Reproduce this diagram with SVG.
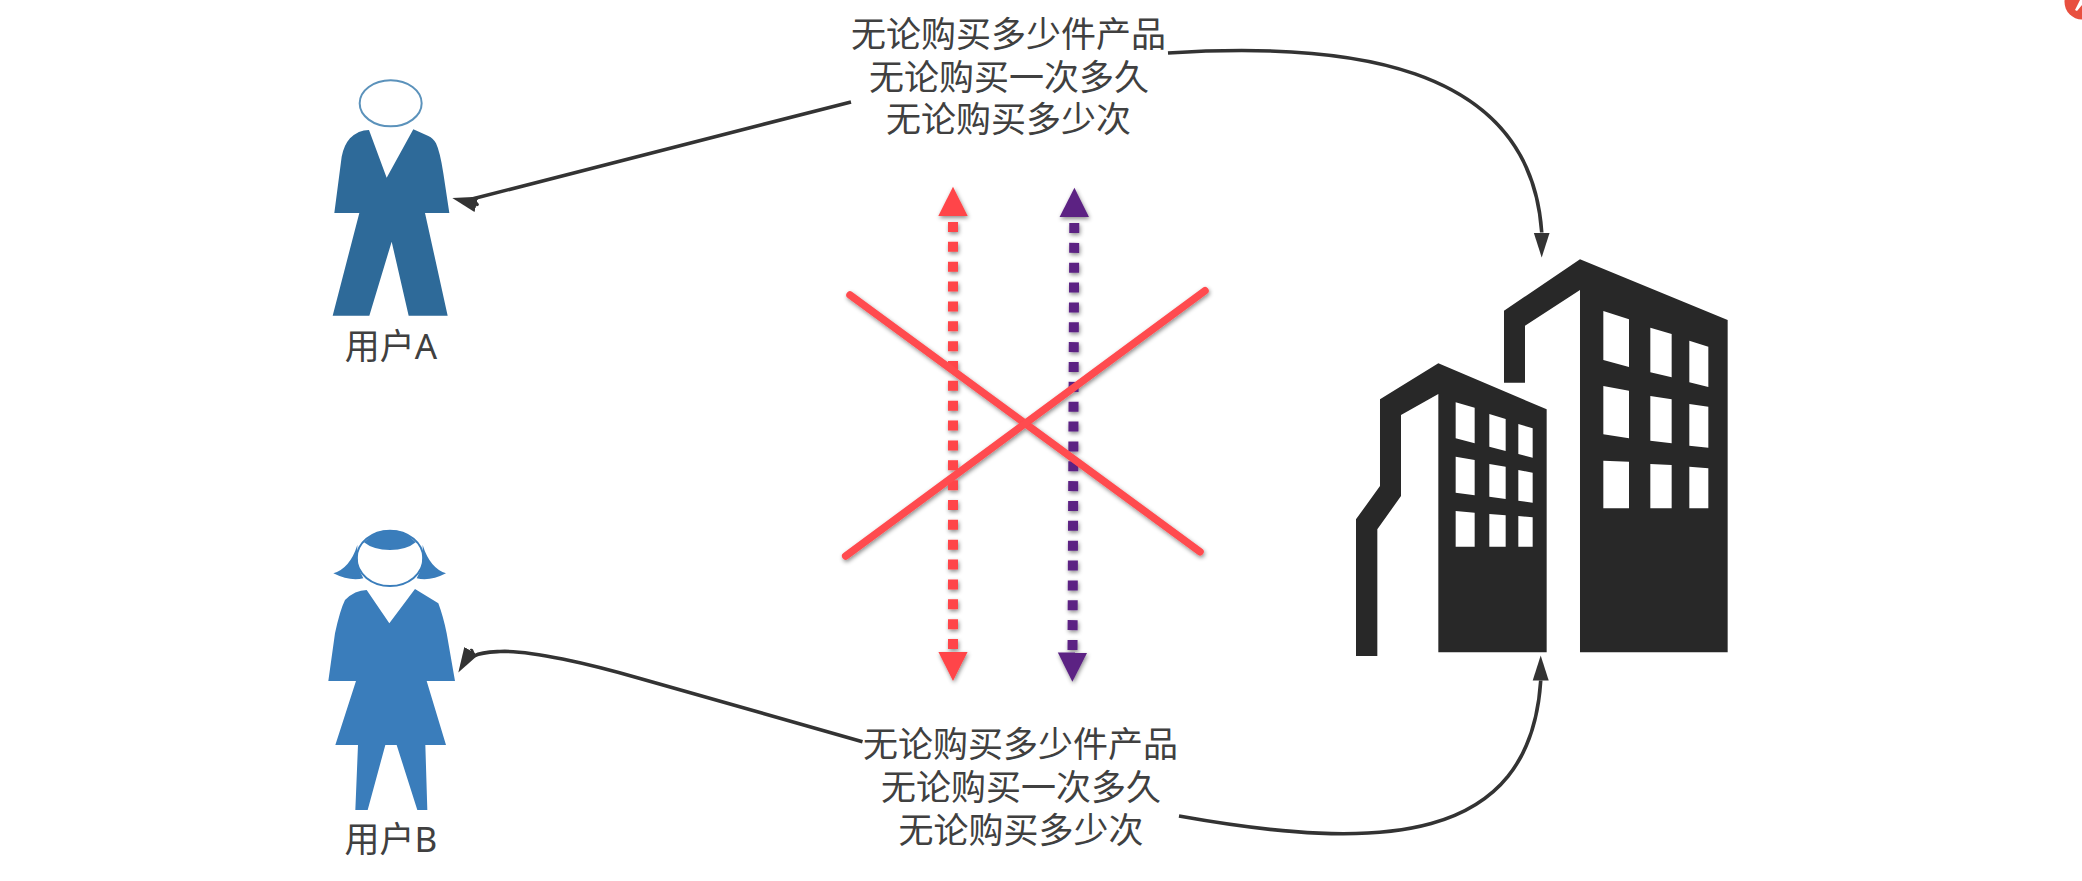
<svg xmlns="http://www.w3.org/2000/svg" width="2082" height="881" viewBox="0 0 2082 881">
<style>
text{font-family:"Noto Sans","Noto Sans CJK SC",sans-serif;font-size:35px;fill:#404040;text-anchor:middle}
.man{fill:#2e6a99}
.woman{fill:#3a7dbb}
.bld{fill:#282828}
.win{fill:#fff}
.flow{fill:none;stroke:#333;stroke-width:3.600;stroke-linejoin:round;marker-end:url(#stealth)}
.dots{fill:none;stroke-width:10;stroke-dasharray:10 9.857;stroke-dashoffset:-6}
.red{stroke:#ff4548;marker-start:url(#headRed);marker-end:url(#headRed)}
.pur{stroke:#5b2183;marker-start:url(#headPur);marker-end:url(#headPur)}
.cross{stroke:#ff4b4f;stroke-width:7.500;stroke-linecap:round;fill:none}
</style>
<defs>
<marker id="stealth" markerUnits="userSpaceOnUse" markerWidth="26" markerHeight="18" viewBox="0 -9 26 18" refX="0" refY="0" orient="auto"><path d="M0,-8L25,0L0,8Z" fill="#333"/></marker>
<marker id="headRed" markerUnits="userSpaceOnUse" markerWidth="30" markerHeight="30" viewBox="0 -15 30 30" refX="0" refY="0" orient="auto-start-reverse"><path d="M0,-14.700L29.300,0L0,14.700Z" fill="#ff4548"/></marker>
<marker id="headPur" markerUnits="userSpaceOnUse" markerWidth="30" markerHeight="30" viewBox="0 -15 30 30" refX="0" refY="0" orient="auto-start-reverse"><path d="M0,-14.700L29.300,0L0,14.700Z" fill="#5b2183"/></marker>
<filter id="shadow" x="-20%" y="-20%" width="140%" height="140%"><feDropShadow dx="1" dy="2" stdDeviation="2" flood-color="#000" flood-opacity="0.45"/></filter>
</defs>
<rect width="2082" height="881" fill="#fff"/>
<g id="badge"><circle cx="2082" cy="2" r="17.500" fill="#e8503f"/><path d="M2075,10L2080,0H2082V5L2077,11Z" fill="#fff"/></g>
<g id="crossed-exchange" filter="url(#shadow)">
<path class="dots red" d="M953,216V651.700"/>
<path class="dots pur" d="M1074.300,217L1072.500,652.500"/>
<path class="cross" d="M850,295L1200,551.700"/>
<path class="cross" d="M1205,290.700L845.700,556"/>
</g>
<g id="connectors">
<path class="flow" d="M851,102C720,135 580,172 472,199L477,204.500L476.500,204.370"/>
<path class="flow" d="M1168,53C1340,42 1530,60 1541.700,232L1541.700,232.500"/>
<path class="flow" d="M862.500,741.700L640,678.500C590,664 530,650 500,651.500C490,652 482,652 474,656L471.500,650.500L471.200,651"/>
<path class="flow" d="M1179,816C1380,852 1530,845 1540.700,681L1540.700,680.500"/>
</g>
<g id="user-a">
<g transform="translate(300 50) scale(.33333)">
<ellipse cx="272" cy="160" rx="93" ry="69" fill="#fff" stroke="#5b92bb" stroke-width="6"/>
<path class="man" d="M207,240Q175,240 150,265Q132,285 125,320L103,489H178L98,797H208L275,575L326,797H443L375,489H448L430,370Q420,305 408,280Q400,265 385,258L340,238L260,383Z"/>
</g>
<text x="391" y="359">用户A</text>
</g>
<g id="user-b">
<g transform="translate(300 510) scale(.33333)">
<ellipse cx="270" cy="145" rx="100" ry="83" fill="#fff" stroke="#3a7dbb" stroke-width="6"/>
<path class="woman" d="M192,97Q225,60 270,60Q315,60 347,97Q320,120 270,120Q220,120 192,97Z"/>
<path class="woman" d="M172,105Q150,175 100,190Q150,215 190,205Q168,170 172,105Z"/>
<path class="woman" d="M368,105Q390,175 438,190Q390,215 350,205Q372,170 368,105Z"/>
<path class="woman" d="M200,240Q165,240 135,270Q120,300 105,370L85,513H168L106,705H174L166,900H203L256,705H290L352,900H382L376,705H438L380,513H465L440,370Q430,320 415,280L345,237L268,340Z"/>
</g>
<text x="391" y="851.500">用户B</text>
</g>
<g id="company" transform="translate(1340 240) scale(.33333)">
<path class="bld" d="M720,58L1163,240V1237H720V150L555,257V428H492V212Z"/>
<path class="bld" d="M295,370L620,508V1237H295V462L183,525V768L112,868V1248H48V838L120,738V478Z"/>
<path class="win" d="M790,213L867,238V381L790,360ZM931,263L995,282V412L931,397ZM1048,302L1105,320V441L1048,427ZM790,438L867,452V595L790,583ZM931,468L995,478V610L931,602ZM1048,492L1105,500V623L1048,617ZM790,662L867,665V805H790ZM931,672L995,675V805H931ZM1048,680L1105,685V805H1048Z"/>
<path class="win" d="M347,487L404,503V610L347,595ZM448,522L497,537V633L448,620ZM535,552L578,565V653L535,642ZM347,650L404,660V766L347,758ZM448,672L497,680V777L448,770ZM535,690L578,698V788L535,782ZM347,813L404,818V920H347ZM448,822L497,826V920H448ZM535,828L578,832V920H535Z"/>
</g>
<g id="label-top">
<text x="1008.500" y="47">无论购买多少件产品</text>
<text x="1009" y="89.500">无论购买一次多久</text>
<text x="1008.500" y="132">无论购买多少次</text>
</g>
<g id="label-bottom">
<text x="1020.500" y="757">无论购买多少件产品</text>
<text x="1021" y="799.500">无论购买一次多久</text>
<text x="1021" y="843">无论购买多少次</text>
</g>
</svg>
